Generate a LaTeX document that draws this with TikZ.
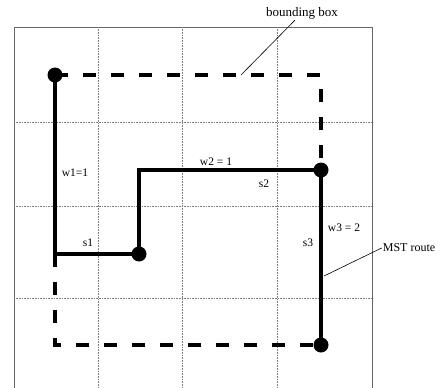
\documentclass[tikz,border=0pt]{standalone}
\usepackage{fontspec}
\setmainfont{Liberation Serif}
\usetikzlibrary{positioning, calc}

\begin{document}
\begin{tikzpicture}
        [x=1pt, y=-1pt,
        griglia/.style={gray, densely dotted, line width=0.6pt},
        percorso/.style={line width=3.3pt},
        scatola/.style={line width=3.5pt, dash pattern=on 13pt off 15pt},
        punto/.style={circle, fill=black, inner sep=0pt, minimum size=15pt},
        etichetta/.style={font=\fontsize{11.5}{13}\selectfont, inner sep=1pt},
        richiamo/.style={line width=0.6pt}]
            \useasboundingbox (0,0) rectangle (442,388);
            %disegno cornice
            \draw[gray!80!black, line width=0.9pt] (14,388) -- (14,27) -- (372,27) -- (372,388);
            %disegno griglia
            \foreach \gx in {98,182,277}
                \draw[griglia] (\gx,27) -- (\gx,388);
            \foreach \gy in {122,206,298}
                \draw[griglia] (14,\gy) -- (372,\gy);
            %punti
            \coordinate (pA) at (55,75);
            \coordinate (pB) at (139,254);
            \coordinate (pC) at (321,170);
            \coordinate (pD) at (321,345);
            \coordinate (angoloS1) at (pA |- pB);
            %disegno bounding box
            \draw[scatola] (pA) -| (pD);
            \draw[scatola] (angoloS1) |- (pD);
            %disegno percorso MST
            \draw[percorso] (pA) |- (pB);
            \draw[percorso] (pB) |- (pC);
            \draw[percorso] (pC) -- (pD);
            \foreach \p in {pA,pB,pC,pD}
                \node[punto] at (\p) {};
            %label
            \node[etichetta] (w1) at (75,173) {w1=1};
            \node[etichetta] (s1) at (88,243) {s1};
            \node[etichetta] (w2) at (216,162) {w2 = 1};
            \node[etichetta] (s2) at (264,184) {s2};
            \node[etichetta] (w3) at (344,228) {w3 = 2};
            \node[etichetta] (s3) at (308,243) {s3};
            %richiami
            \node[etichetta, font=\fontsize{13}{15}\selectfont] (bblabel) at (302,13) {bounding box};
            \coordinate (bbtip) at (241,75);
            \draw[richiamo] ([xshift=-7pt]bblabel.south) -- (bbtip);
            \node[etichetta, font=\fontsize{12}{14}\selectfont] (mstlabel) at (409,248) {MST route};
            \coordinate (msttip) at (324,276);
            \draw[richiamo] (mstlabel.west) -- (msttip);
    \end{tikzpicture}
\end{document}
